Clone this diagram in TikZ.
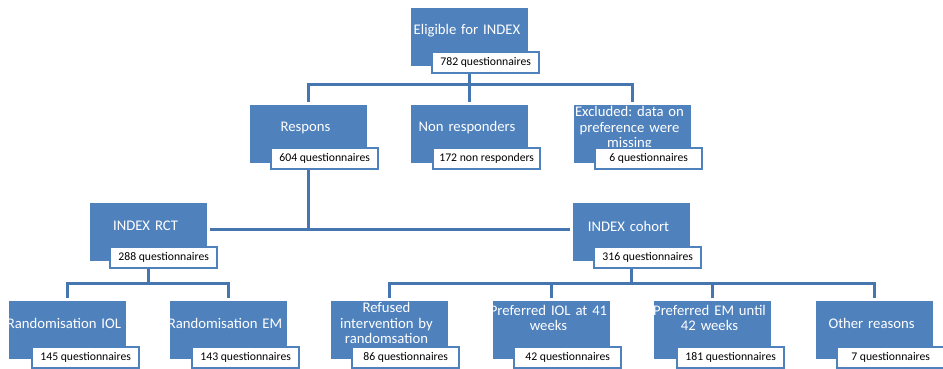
\documentclass[tikz,border=0pt]{standalone}
\usepackage{fontspec}
\setmainfont{Carlito}
\frenchspacing
\definecolor{boxblue}{HTML}{4F81BD}
\definecolor{lineblue}{HTML}{4676B0}
\begin{document}
\begin{tikzpicture}[x=1pt,y=-1pt,
  stage/.style={draw=none,fill=boxblue,minimum width=117pt,minimum height=58pt,
    inner sep=0pt,outer sep=3pt,anchor=north west},
  stagetext/.style={text=white,align=center,font=\fontsize{14.7}{15.5}\selectfont,
    text width=125pt},
  count/.style={draw=boxblue,line width=2.4pt,fill=white,minimum width=107pt,
    minimum height=21pt,inner sep=0pt,anchor=north west,
    font=\fontsize{11.7}{13}\selectfont},
  conn/.style={draw=lineblue,line width=3pt}]
\useasboundingbox (0,0) rectangle (943,369);

% junction heights of the elbow connectors
\coordinate (busA) at (0,85);
\coordinate (busB) at (0,229);
\coordinate (busC) at (0,283);

% stage boxes
\node[stage] (elig)   at (408,5)   {};
\node[stage] (resp)   at (247,102) {};
\node[stage] (nonr)   at (408,102) {};
\node[stage] (excl)   at (571,102) {};
\node[stage] (rct)    at (87,200)  {};
\node[stage] (coh)    at (570,200) {};
\node[stage] (riol)   at (6,298)   {};
\node[stage] (rem)    at (167,298) {};
\node[stage] (refu)   at (328,298) {};
\node[stage] (piol)   at (490,298) {};
\node[stage] (pem)    at (651,298) {};
\node[stage] (other)  at (813,298) {};

% connectors
\draw[conn] (elig.south) -- (elig.south |- busA);
\draw[conn] (resp.north) -- (resp.north |- busA) -- (excl.north |- busA) -- (excl.north);
\draw[conn] (nonr.north) -- (nonr.north |- busA);
\draw[conn] (resp.south) -- (resp.south |- busB);
\draw[conn] (rct.east |- busB) -- (coh.west |- busB);
\draw[conn] (rct.south) -- (rct.south |- busC);
\draw[conn] (riol.north) -- (riol.north |- busC) -- (rem.north |- busC) -- (rem.north);
\draw[conn] (coh.south) -- (coh.south |- busC);
\draw[conn] (refu.north) -- (refu.north |- busC) -- (other.north |- busC) -- (other.north);
\draw[conn] (piol.north) -- (piol.north |- busC);
\draw[conn] (pem.north) -- (pem.north |- busC);

% stage titles
\node[stagetext] (telig)  at (467,31)  {Eligible for INDEX};
\node[stagetext] (tresp)  at (305.5,128) {Respons};
\node[stagetext] (tnonr)  at (467,128) {Non responders};
\node[stagetext,anchor=north] (texcl) at (629.5,103) {Excluded: data on\\preference were\\missing};
\node[stagetext] (trct)   at (145.5,226) {INDEX RCT};
\node[stagetext] (tcoh)   at (628.5,226) {INDEX cohort};
\node[stagetext] (triol)  at (64,323)  {Randomisation IOL};
\node[stagetext] (trem)   at (225,323) {Randomisation EM};
\node[stagetext,anchor=north] (trefu) at (386.5,299) {Refused\\intervention by\\randomsation};
\node[stagetext] (tpiol)  at (548.5,318) {Preferred IOL at 41\\weeks};
\node[stagetext] (tpem)   at (709.5,318) {Preferred EM until\\42 weeks};
\node[stagetext] (tother) at (871.5,323) {Other reasons};

% count labels
\node[count] (celig)  at (431,51)  {782 questionnaires};
\node[count] (cresp)  at (270,147) {604 questionnaires};
\node[count] (cnonr)  at (432,147) {172 non responders};
\node[count] (cexcl)  at (594,147) {6 questionnaires};
\node[count] (crct)   at (109,246) {288 questionnaires};
\node[count] (ccoh)   at (593,246) {316 questionnaires};
\node[count] (criol)  at (31,346)  {145 questionnaires};
\node[count] (crem)   at (191,346) {143 questionnaires};
\node[count] (crefu)  at (351,346) {86 questionnaires};
\node[count] (cpiol)  at (513,346) {42 questionnaires};
\node[count] (cpem)   at (676,346) {181 questionnaires};
\node[count] (cother) at (836,346) {7 questionnaires};
\end{tikzpicture}
\end{document}
